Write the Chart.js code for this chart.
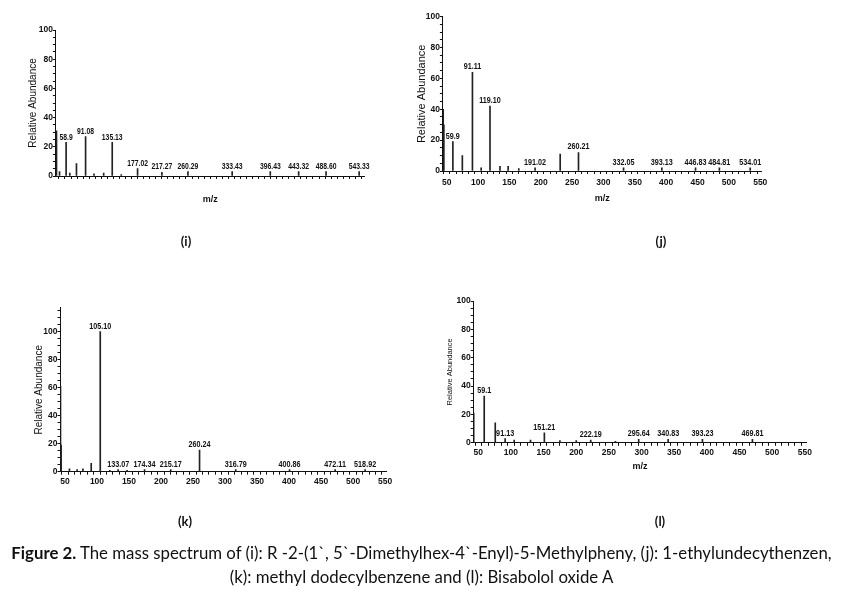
<!DOCTYPE html>
<html>
<head>
<meta charset="utf-8">
<script src="https://cdn.jsdelivr.net/npm/chart.js@4.4.1/dist/chart.umd.min.js"></script>
<style>
  html, body { margin: 0; padding: 0; background: #fff; }
  #page { position: relative; width: 843px; height: 595px; overflow: hidden; }
  #page canvas { position: absolute; left: 0; top: 0; }
  .tag { position: absolute; font: bold 13px Lato, "Open Sans", sans-serif; color: #111; transform: translate(-50%, -50%); }
  #caption { position: absolute; left: 0; top: 541px; width: 843px; text-align: center;
             font: 16.8px Lato, "Open Sans", sans-serif; line-height: 24px; color: #111; white-space: nowrap; }
</style>
</head>
<body>
<div id="page">
  <canvas id="chartI" width="843" height="595"></canvas>
  <canvas id="chartJ" width="843" height="595"></canvas>
  <canvas id="chartK" width="843" height="595"></canvas>
  <canvas id="chartL" width="843" height="595"></canvas>
  <div class="tag" style="left:186px;top:241px">(i)</div>
  <div class="tag" style="left:661px;top:241px">(j)</div>
  <div class="tag" style="left:185px;top:521px">(k)</div>
  <div class="tag" style="left:660px;top:521px">(l)</div>
  <div id="caption"><b>Figure 2.</b> The mass spectrum of (i): R -2-(1`, 5`-Dimethylhex-4`-Enyl)-5-Methylpheny, (j): 1-ethylundecythenzen,<br>(k): methyl dodecylbenzene and (l): Bisabolol oxide A</div>
</div>
<script>
// -------------------------------
// DATA (m/z, relative abundance, peak labels)
// -------------------------------
const xTickLabels = [50, 100, 150, 200, 250, 300, 350, 400, 450, 500, 550];
const yTickLabels = [0, 20, 40, 60, 80, 100];

// (i)
const iMz  = [43, 48, 58.9, 65, 76, 91.08, 105, 121, 135.13, 150, 177.02, 217.27, 260.29, 333.43, 396.43, 443.32, 488.60, 543.33];
const iAb  = [31, 3, 23, 2, 8.5, 27, 1.5, 2, 23, 1, 5, 2.5, 3, 3, 3, 3, 3, 3];
const iLbl = ["", "", "58.9", "", "", "91.08", "", "", "135.13", "", "177.02", "217.27", "260.29", "333.43", "396.43", "443.32", "488.60", "543.33"];

// (j)
const jMz  = [44.5, 45.5, 59.9, 75, 91.11, 105, 119.10, 135, 148, 165, 191.02, 231, 260.21, 332.05, 393.13, 446.83, 484.81, 534.01];
const jAb  = [40, 30, 19, 10, 64, 2, 42, 3, 3, 1.5, 2, 11, 12, 2, 2, 2, 2, 2];
const jLbl = ["", "", "59.9", "", "91.11", "", "119.10", "", "", "", "191.02", "", "260.21", "332.05", "393.13", "446.83", "484.81", "534.01"];

// (k)
const kMz  = [43, 44, 57, 69, 78, 91, 105.10, 120, 133.07, 147, 174.34, 215.17, 260.24, 316.79, 400.86, 472.11, 518.92];
const kAb  = [61, 19, 2, 1.5, 2, 6, 100, 1, 1.5, 1, 1.5, 1.5, 15.5, 1.5, 1.5, 1.5, 1.5];
const kLbl = ["", "", "", "", "", "", "105.10", "", "133.07", "", "174.34", "215.17", "260.24", "316.79", "400.86", "472.11", "518.92"];

// (l)
const lMz  = [43, 59.1, 76, 91.13, 105, 130, 151.21, 175, 200, 222.19, 260, 295.64, 340.83, 393.23, 469.81];
const lAb  = [21, 33, 14, 3, 2, 2, 7, 1.5, 1.5, 2, 1, 2.5, 2.5, 2.5, 2.5];
const lLbl = ["", "59.1", "", "91.13", "", "", "151.21", "", "", "222.19", "", "295.64", "340.83", "393.23", "469.81"];

const SANS = '"Liberation Sans", Arial, sans-serif';

// -------------------------------
// PEAK LABEL PLUGIN (squeezed text, like the scan)
// -------------------------------
const peakLabels = {
  id: "peakLabels",
  afterDatasetsDraw(chart, args, opts) {
    const ctx = chart.ctx;
    const meta = chart.getDatasetMeta(0);
    ctx.save();
    ctx.fillStyle = "#111";
    ctx.font = "bold " + opts.size + "px " + SANS;
    ctx.textAlign = "center";
    ctx.textBaseline = "bottom";
    meta.data.forEach((bar, i) => {
      const t = opts.labels[i];
      if (!t) return;
      ctx.save();
      ctx.translate(bar.x, bar.y - 1);
      ctx.scale(0.8, 1);
      ctx.fillText(t, 0, 0);
      ctx.restore();
    });
    ctx.restore();
  }
};

function makeSpectrum(id, mz, ab, labels, box) {
  const W = 843, H = 595;
  new Chart(document.getElementById(id), {
    type: "bar",
    data: {
      datasets: [{
        data: mz.map((m, i) => ({ x: m, y: ab[i] })),
        backgroundColor: "#222",
        barThickness: 1
      }]
    },
    options: {
      responsive: false,
      animation: false,
      layout: {
        padding: { left: box.L - box.yW, right: W - box.R, top: box.T, bottom: H - box.B - box.xH }
      },
      plugins: {
        legend: { display: false },
        tooltip: { enabled: false },
        peakLabels: { labels, size: box.lblSize }
      },
      scales: {
        x: {
          type: "linear",
          offset: false,
          min: box.xmin, max: box.xmax,
          border: { color: "#111", width: 1 },
          grid: { drawOnChartArea: false, drawTicks: true, tickLength: 3, color: "#111" },
          ticks: {
            stepSize: 10, autoSkip: false, maxRotation: 0, includeBounds: false,
            padding: box.xPad, color: "#111",
            font: { family: SANS, size: 8.5, weight: "bold" },
            callback: v => xTickLabels.includes(v) ? String(v) : ""
          },
          title: {
            display: box.xTitle, text: "m/z", color: "#111", padding: 0,
            font: { family: SANS, size: 9, weight: "bold" }
          },
          afterFit: s => { s.height = box.xH; }
        },
        y: {
          min: 0, max: box.ymax,
          border: { color: "#111", width: 1 },
          grid: { drawOnChartArea: false, drawTicks: true, tickLength: 3, color: "#111" },
          ticks: {
            stepSize: 5, autoSkip: false, includeBounds: false,
            padding: 0, color: "#111",
            font: { family: SANS, size: 8.5, weight: "bold" },
            callback: v => yTickLabels.includes(v) ? String(v) : ""
          },
          title: {
            display: true, text: "Relative Abundance", color: "#111", padding: 0,
            font: { family: SANS, size: box.yTitleSize }
          },
          afterFit: s => { s.width = box.yW; }
        }
      }
    },
    plugins: [peakLabels]
  });
}

makeSpectrum("chartI", iMz, iAb, iLbl, {
  L: 55.9, R: 364.4, T: 30, B: 176, xmin: 42, xmax: 552, ymax: 100,
  yW: 28.9, xH: 29.4, xPad: 3, xTitle: true, yTitleSize: 10, lblSize: 8.5
});
makeSpectrum("chartJ", jMz, jAb, jLbl, {
  L: 442.9, R: 761.5, T: 16.7, B: 171, xmin: 44, xmax: 552, ymax: 100,
  yW: 27.8, xH: 32.7, xPad: 4, xTitle: true, yTitleSize: 11, lblSize: 9
});
makeSpectrum("chartK", kMz, kAb, kLbl, {
  L: 60.5, R: 386.3, T: 307.9, B: 471.7, xmin: 43, xmax: 552, ymax: 117,
  yW: 27.2, xH: 20, xPad: 2, xTitle: false, yTitleSize: 10, lblSize: 9
});
makeSpectrum("chartL", lMz, lAb, lLbl, {
  L: 473.7, R: 806.1, T: 301, B: 442.8, xmin: 43, xmax: 552, ymax: 100,
  yW: 28.2, xH: 29.6, xPad: 2, xTitle: true, yTitleSize: 7.5, lblSize: 9
});
</script>
</body>
</html>
